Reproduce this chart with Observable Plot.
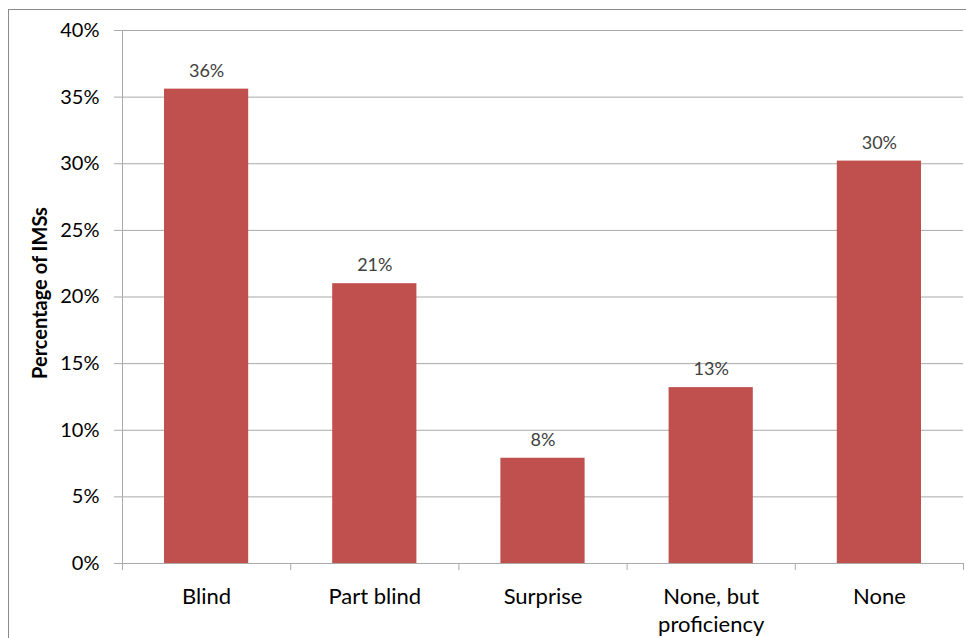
<!DOCTYPE html>
<html>
<head>
<meta charset="utf-8">
<script src="https://cdn.jsdelivr.net/npm/d3@7"></script>
<script src="https://cdn.jsdelivr.net/npm/@observablehq/plot@0.6"></script>
<style>
  html, body { margin: 0; padding: 0; background: #fff; overflow: hidden; }
  #chart { position: relative; width: 966px; height: 638px; }
  #chart svg { display: block; }
  #frame {
    position: absolute; left: 8px; top: 9px; width: 1000px; height: 700px;
    border: 1.5px solid #8a8a8a; pointer-events: none; box-sizing: border-box;
  }
</style>
</head>
<body>
<div id="chart"><div id="frame"></div></div>
<script>
// Share of IMSs by awareness category
const categories = ["Blind", "Part blind", "Surprise", "None, but\nproficiency", "None"];
const shares = [0.356, 0.21, 0.079, 0.132, 0.302];
const yTicks = [0, 0.05, 0.10, 0.15, 0.20, 0.25, 0.30, 0.35, 0.40];
const yTitle = "Percentage of IMSs";

const pct = d3.format(".0%");
const rows = categories.map((category, i) => ({i, category, share: shares[i]}));
const gridColor = "#a9a9a9";

const chart = Plot.plot({
  width: 966,
  height: 638,
  marginLeft: 122,
  marginRight: 3,
  marginTop: 30,
  marginBottom: 75,
  style: {fontFamily: "Lato, 'Open Sans', sans-serif", background: "white", color: "black"},
  x: {domain: [0, categories.length], axis: null},
  y: {domain: [0, 0.4], axis: null},
  marks: [
    Plot.gridY(yTicks, {stroke: gridColor, strokeOpacity: 1}),
    Plot.axisY(yTicks, {
      tickSize: 8, tickPadding: 15, tickFormat: pct,
      stroke: gridColor, fill: "black", fontSize: 20, label: null
    }),
    // category boundary ticks
    Plot.axisX(d3.range(categories.length + 1), {
      tickSize: 7, tickFormat: () => "", stroke: gridColor, label: null
    }),
    Plot.rectY(rows, {
      x1: "i", x2: d => d.i + 1, y: "share",
      fill: "#C0504D", insetLeft: 42, insetRight: 42
    }),
    Plot.ruleX([0], {stroke: gridColor}),
    Plot.ruleY([0], {stroke: gridColor}),
    // value labels above bars
    Plot.text(rows, {
      x: d => d.i + 0.5, y: "share", text: d => pct(d.share),
      dy: -18, fontSize: 18, fill: "#404040"
    }),
    // category labels
    Plot.text(rows, {
      x: d => d.i + 0.5, text: "category", frameAnchor: "bottom",
      lineAnchor: "top", dy: 20, lineHeight: 1.3, fontSize: 22, fill: "black"
    }),
    // y-axis title
    Plot.text([yTitle], {
      frameAnchor: "left", textAnchor: "middle", rotate: -90, dx: -82, dy: -4,
      fontSize: 20, fontWeight: "bold", fill: "black"
    })
  ]
});

document.getElementById("chart").prepend(chart);
</script>
</body>
</html>
